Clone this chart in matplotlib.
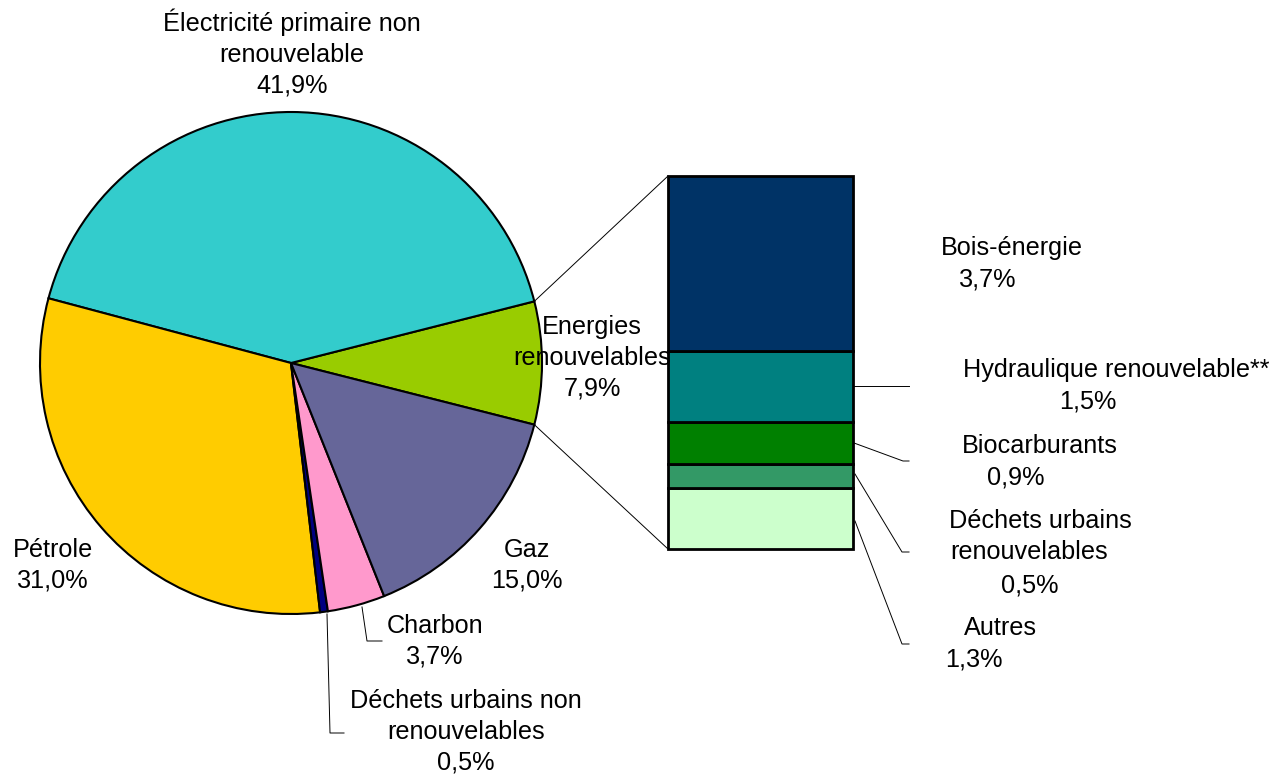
import matplotlib
matplotlib.use("Agg")
import matplotlib.pyplot as plt
import numpy as np

plt.rcParams['font.family'] = ['Liberation Sans', 'DejaVu Sans']

# ---- data ----
pie_names = ["Energies\nrenouvelables", "Électricité primaire non\nrenouvelable", "Pétrole",
             "Déchets urbains non\nrenouvelables", "Charbon", "Gaz"]
pie_values = [7.9, 41.9, 31.0, 0.5, 3.7, 15.0]
pie_colors = ["#99CC00", "#33CCCC", "#FFCC00", "#000080", "#FF99CC", "#666699"]

bar_names = ["Autres", "Déchets urbains\nrenouvelables", "Biocarburants",
             "Hydraulique renouvelable**", "Bois-énergie"]
bar_values = [1.3, 0.5, 0.9, 1.5, 3.7]
bar_colors = ["#CCFFCC", "#339966", "#008000", "#008080", "#003366"]

W, H = 1276, 776
fig = plt.figure(figsize=(W / 100, H / 100), dpi=100)
ax = fig.add_axes([0, 0, 1, 1])

def Y(y):
    return H - y

def fmt(v):
    return f"{v:.1f}".replace('.', ',') + "%"

# ---- pie ----
cx, cy, r = 291, 363, 251
ren_share = pie_values[0] / sum(pie_values) * 360
start = -ren_share / 2
ax.pie(pie_values, colors=pie_colors, startangle=start, counterclock=True,
       center=(cx, Y(cy)), radius=r,
       wedgeprops=dict(edgecolor='black', linewidth=1.5))

# ---- stacked bar ----
bx0, bx1 = 668, 853
btop, bbot = 176, 549
scale = (bbot - btop) / sum(bar_values)
bottom = Y(bbot)
for v, c in zip(bar_values, bar_colors):
    ax.bar((bx0 + bx1) / 2, v * scale, width=bx1 - bx0, bottom=bottom, color=c,
           edgecolor='black', linewidth=2.0, zorder=3)
    bottom += v * scale

# connecting lines
a1 = np.deg2rad(start + ren_share)
a0 = np.deg2rad(start)
ax.plot([cx + r * np.cos(a1), bx0], [Y(cy) + r * np.sin(a1), Y(btop)], color='black', lw=0.7)
ax.plot([cx + r * np.cos(a0), bx0], [Y(cy) + r * np.sin(a0), Y(bbot)], color='black', lw=0.7)

fs = 18.2
ls = 1.36

# ---- pie labels ----
pie_label_pos = {0: (592, 358), 1: (292, 53), 2: (53, 565), 3: (466, 732), 4: (435, 641), 5: (527, 565)}
for i, (n, v) in enumerate(zip(pie_names, pie_values)):
    x, y = pie_label_pos[i]
    ax.text(x, Y(y), n + "\n" + fmt(v), ha='center', va='center', fontsize=fs,
            linespacing=ls, zorder=5)

# pie leader lines
ax.plot([362, 367, 382], [Y(607), Y(641), Y(641)], color='black', lw=0.7)
ax.plot([327, 330, 344], [Y(614), Y(733), Y(733)], color='black', lw=0.7)

# ---- bar labels (line by line) ----
bar_label_lines = {
    4: [(1012, 248), (988, 280)],
    3: [(1116, 370), (1088, 402)],
    2: [(1040, 446), (1016, 478)],
    1: [(1040, 521), (1029, 552), (1030, 585)],
    0: [(1000, 628), (974, 660)],
}
for i, (n, v) in enumerate(zip(bar_names, bar_values)):
    lines = n.split("\n") + [fmt(v)]
    for txt, (x, y) in zip(lines, bar_label_lines[i]):
        ax.text(x, Y(y), txt, ha='center', va='center', fontsize=fs)

# bar leader lines
ax.plot([854, 909], [Y(386), Y(386)], color='black', lw=0.7)
ax.plot([854, 903, 909], [Y(443), Y(461), Y(461)], color='black', lw=0.7)
ax.plot([855, 902, 909], [Y(474), Y(552), Y(552)], color='black', lw=0.7)
ax.plot([855, 902, 909], [Y(521), Y(644), Y(644)], color='black', lw=0.7)

ax.set_xlim(0, W)
ax.set_ylim(0, H)
ax.set_aspect('auto')
ax.axis('off')

fig.savefig("out.png", dpi=100)
